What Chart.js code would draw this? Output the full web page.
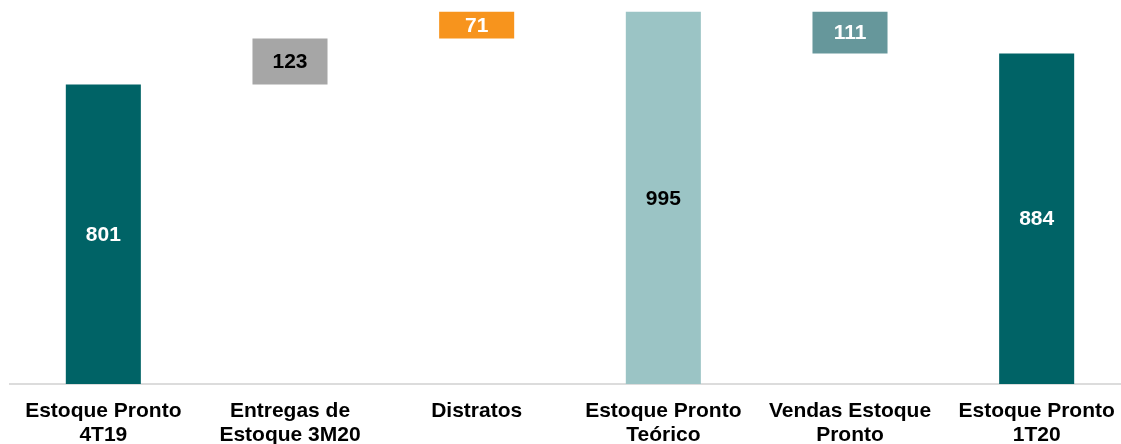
<!DOCTYPE html>
<html>
<head>
<meta charset="utf-8">
<script src="https://cdn.jsdelivr.net/npm/chart.js@4/dist/chart.umd.min.js"></script>
<style>
  html, body { margin: 0; padding: 0; background: #fff; overflow: hidden; }
  #wrap { position: relative; width: 1140px; height: 444px; }
</style>
</head>
<body>
<div id="wrap"><canvas id="chart"></canvas></div>
<script>
// Dados do gráfico (cascata)
const categories = [
  ['Estoque Pronto', '4T19'],
  ['Entregas de', 'Estoque 3M20'],
  ['Distratos'],
  ['Estoque Pronto', 'Teórico'],
  ['Vendas Estoque', 'Pronto'],
  ['Estoque Pronto', '1T20']
];
const values = [801, 123, 71, 995, -111, 884];
const isTotal = [true, false, false, true, false, true];
const barColors = ['#006366', '#a6a6a6', '#f7941d', '#9bc4c5', '#66979b', '#006366'];
const labelColors = ['#fff', '#000', '#fff', '#000', '#fff', '#fff'];

// Barras flutuantes a partir do acumulado
let running = 0;
const floating = values.map((v, i) => {
  if (isTotal[i]) { running = v; return [0, v]; }
  const start = running;
  running += v;
  return [Math.min(start, running), Math.max(start, running)];
});

// Rótulos no centro das barras
const barLabels = {
  id: 'barLabels',
  afterDatasetsDraw(chart) {
    const ctx = chart.ctx;
    const meta = chart.getDatasetMeta(0);
    ctx.save();
    ctx.font = 'bold 21px "Liberation Sans", Arial, sans-serif';
    ctx.textAlign = 'center';
    ctx.textBaseline = 'middle';
    meta.data.forEach((bar, i) => {
      const { x, y, base } = bar.getProps(['x', 'y', 'base'], true);
      ctx.fillStyle = labelColors[i];
      ctx.fillText(Math.abs(values[i]), x, (y + base) / 2 + 1);
    });
    ctx.restore();
  }
};

new Chart(document.getElementById('chart'), {
  type: 'bar',
  data: {
    labels: categories,
    datasets: [{
      data: floating,
      backgroundColor: barColors,
      borderSkipped: false,
      barPercentage: 1,
      categoryPercentage: 0.402
    }]
  },
  options: {
    responsive: true,
    maintainAspectRatio: false,
    animation: false,
    layout: { padding: { left: 10, right: 10, top: 10, bottom: 0 } },
    plugins: { legend: { display: false }, tooltip: { enabled: false } },
    scales: {
      x: {
        grid: { display: false },
        border: { display: true, color: '#dcdcdc', width: 2 },
        ticks: {
          color: '#000',
          padding: 7,
          maxRotation: 0,
          autoSkip: false,
          font: { family: '"Liberation Sans", Arial, sans-serif', size: 21, weight: 'bold', lineHeight: 1.14 }
        },
        afterFit(scale) { scale.height = 60; }
      },
      y: {
        display: false,
        min: 0,
        max: 1000
      }
    }
  },
  plugins: [barLabels]
});
</script>
</body>
</html>
